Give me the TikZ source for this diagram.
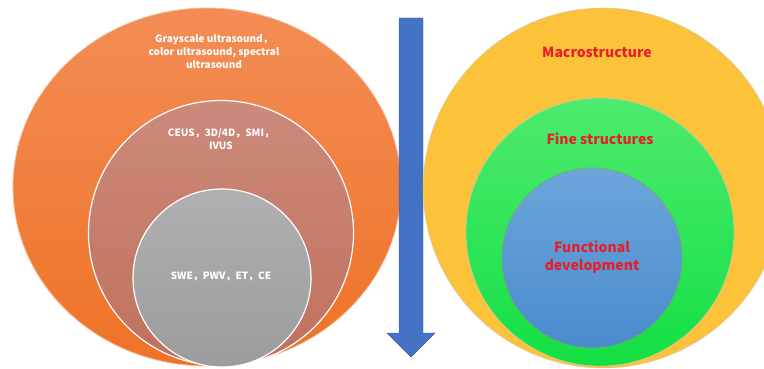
\documentclass[tikz,border=0pt]{standalone}
\usepackage{fontspec}
\setmainfont{Noto Sans CJK SC}
\usetikzlibrary{shapes}
\usepackage{xcolor}
\definecolor{orangetop}{HTML}{F38D55}
\definecolor{orangebot}{HTML}{EF7227}
\definecolor{rosetop}{HTML}{CC8A7C}
\definecolor{rosebot}{HTML}{C0705B}
\definecolor{greytop}{HTML}{B0B0B0}
\definecolor{greybot}{HTML}{9C9C9C}
\definecolor{yellowfill}{HTML}{FCC239}
\definecolor{greentop}{HTML}{4FEA6E}
\definecolor{greenbot}{HTML}{12E043}
\definecolor{bluetop}{HTML}{6CA6DA}
\definecolor{bluebot}{HTML}{4A8BCE}
\definecolor{arrowblue}{HTML}{4472C4}
\definecolor{labelred}{HTML}{E5202B}

\begin{document}
\begin{tikzpicture}[x=1pt,y=-1pt]
		\tikzstyle{every node}=[inner sep=0pt]
		\tikzstyle{ring}=[circle, draw=white, line width=1.2pt]
		\tikzstyle{disc}=[circle, draw=black!20, line width=0.4pt]
		\tikzstyle{wlabel}=[text=white, font=\bfseries\fontsize{10}{13}\selectfont, align=center]
		\tikzstyle{rlabel}=[text=labelred, font=\bfseries\fontsize{14}{18}\selectfont, align=center]
		\useasboundingbox (0,0) rectangle (764,369);
		\clip (0,0) rectangle (764,369);
		% imaging techniques
		\node[ellipse, draw=orangetop!60!white, line width=0.8pt, minimum width=388pt, minimum height=358pt,
			top color=orangetop, bottom color=orangebot] (basic) at (207,187) {};
		\node[ring, minimum size=265pt, top color=rosetop, bottom color=rosebot] (advanced) at (221,233) {};
		\node[ring, minimum size=178pt, top color=greytop, bottom color=greybot] (elasto) at (222,278) {};
		\node[wlabel] (basictext) at (214,52) {Grayscale ultrasound，\\color ultrasound, spectral\\ultrasound};
		\node[wlabel] (advancedtext) at (221,139) {CEUS，3D/4D，SMI，\\IVUS};
		\node[wlabel] (elastotext) at (221,276) {SWE，PWV，ET，CE};
		% arrow
		\fill[arrowblue, draw=arrowblue!80!black, line width=0.4pt]
			(399,18) -- (423,18) -- (423,333) -- (435,333) -- (411,357) -- (387,333) -- (399,333) -- cycle;
		% evaluated levels
		\node[disc, minimum size=360pt, fill=yellowfill] (macro) at (603,188) {};
		\node[disc, minimum size=268pt, top color=greentop, bottom color=greenbot] (fine) at (600,232) {};
		\node[circle, draw=green!50!black!60, line width=0.6pt, minimum size=180pt, top color=bluetop, bottom color=bluebot] (func) at (592,258) {};
		\node[rlabel] (macrotext) at (597,52) {Macrostructure};
		\node[rlabel] (finetext) at (600,139) {Fine structures};
		\node[rlabel] (functext) at (592,257) {Functional\\development};
\end{tikzpicture}
\end{document}
